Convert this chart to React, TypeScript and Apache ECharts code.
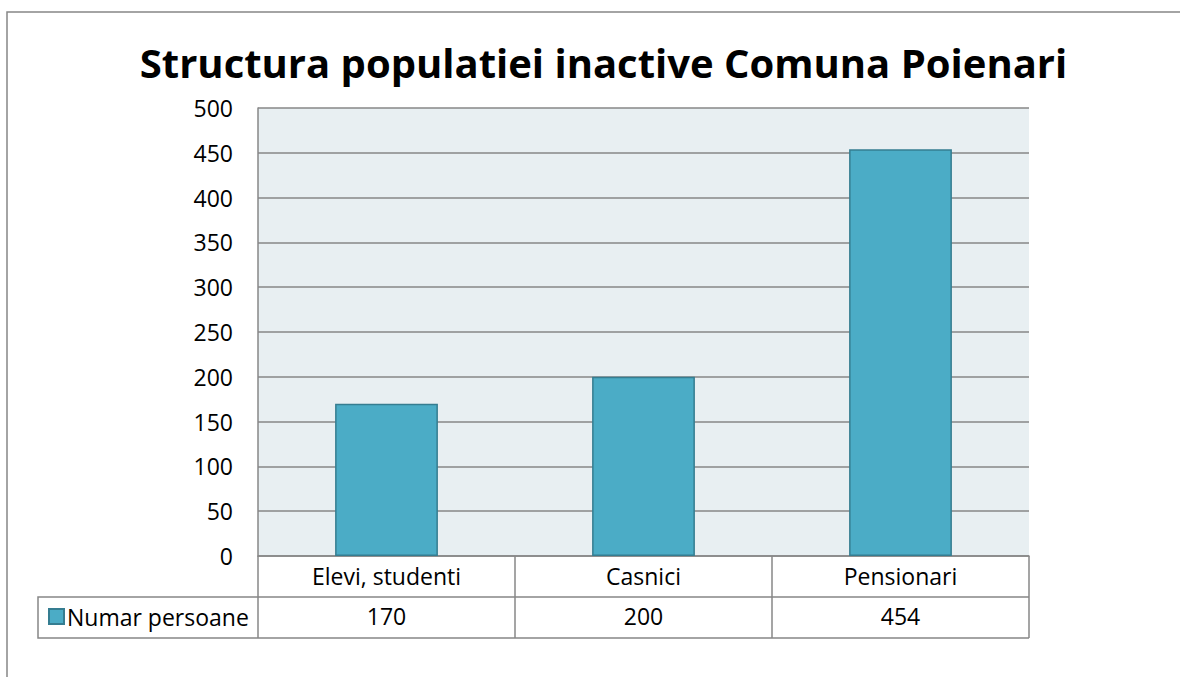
import React, { useEffect, useRef } from "react";
import * as echarts from "echarts";

const title = "Structura populatiei inactive Comuna Poienari";
const categories = ["Elevi, studenti", "Casnici", "Pensionari"];
const seriesName = "Numar persoane";
const values = [170, 200, 454];

const FONT = "'Open Sans', 'Noto Sans', sans-serif";
const LINE = "#878787";

export default function App() {
  const ref = useRef<HTMLDivElement>(null);
  useEffect(() => {
    if (!ref.current) return;
    const chart = echarts.init(ref.current, null, { renderer: "svg" });
    chart.setOption({
      animation: false,
      backgroundColor: "#ffffff",
      textStyle: { fontFamily: FONT },
      legend: {
        data: [seriesName],
        left: 43,
        top: 600,
        itemWidth: 15,
        itemHeight: 15,
        itemGap: 6,
        icon: "rect",
        textStyle: { fontSize: 23, color: "#000", fontFamily: FONT, padding: [0, 0, 0, -2] },
      },
      grid: {
        left: 258,
        top: 108,
        right: 151,
        bottom: 121,
        show: true,
        backgroundColor: "#E8EFF2",
        borderWidth: 0,
      },
      xAxis: [
        {
          type: "category",
          data: categories,
          position: "bottom",
          axisLine: { show: true, lineStyle: { color: LINE, width: 1.5 } },
          axisTick: { show: true, length: 82, lineStyle: { color: LINE, width: 1.5 } },
          axisLabel: { fontSize: 23, color: "#000", margin: 8, fontFamily: FONT },
        },
        {
          type: "category",
          data: values.map((v) => String(v)),
          position: "bottom",
          offset: 41,
          axisLine: { show: false },
          axisTick: { show: false },
          axisLabel: { fontSize: 23, color: "#000", margin: 7, fontFamily: FONT },
        },
      ],
      yAxis: {
        type: "value",
        min: 0,
        max: 500,
        interval: 50,
        axisLine: { show: true, lineStyle: { color: LINE, width: 1.5 } },
        axisTick: { show: false },
        axisLabel: { fontSize: 23, color: "#000", margin: 25, fontFamily: FONT },
        splitLine: { show: true, lineStyle: { color: LINE, width: 1.5 } },
      },
      series: [
        {
          name: seriesName,
          type: "bar",
          data: values,
          barWidth: "40%",
          itemStyle: { color: "#4BACC6", borderColor: "#357D91", borderWidth: 1.5 },
        },
      ],
      graphic: [
        {
          type: "rect",
          shape: { x: 7, y: 12, width: 1200, height: 700 },
          style: { fill: "none", stroke: LINE, lineWidth: 1.5 },
          silent: true,
        },
        {
          type: "polyline",
          shape: { points: [[1029, 597], [38, 597], [38, 638], [1029, 638]] },
          style: { fill: "none", stroke: LINE, lineWidth: 1.5 },
          silent: true,
        },
        {
          type: "text",
          x: 603.5,
          y: 62,
          style: {
            text: title,
            textAlign: "center",
            textVerticalAlign: "middle",
            fontSize: 40,
            fontWeight: "bold",
            fontFamily: FONT,
            fill: "#000",
          },
          silent: true,
        },
      ],
    });
    return () => chart.dispose();
  }, []);
  return (
    <div
      ref={ref}
      style={{ position: "fixed", left: 0, top: 0, width: 1180, height: 677 }}
    />
  );
}
